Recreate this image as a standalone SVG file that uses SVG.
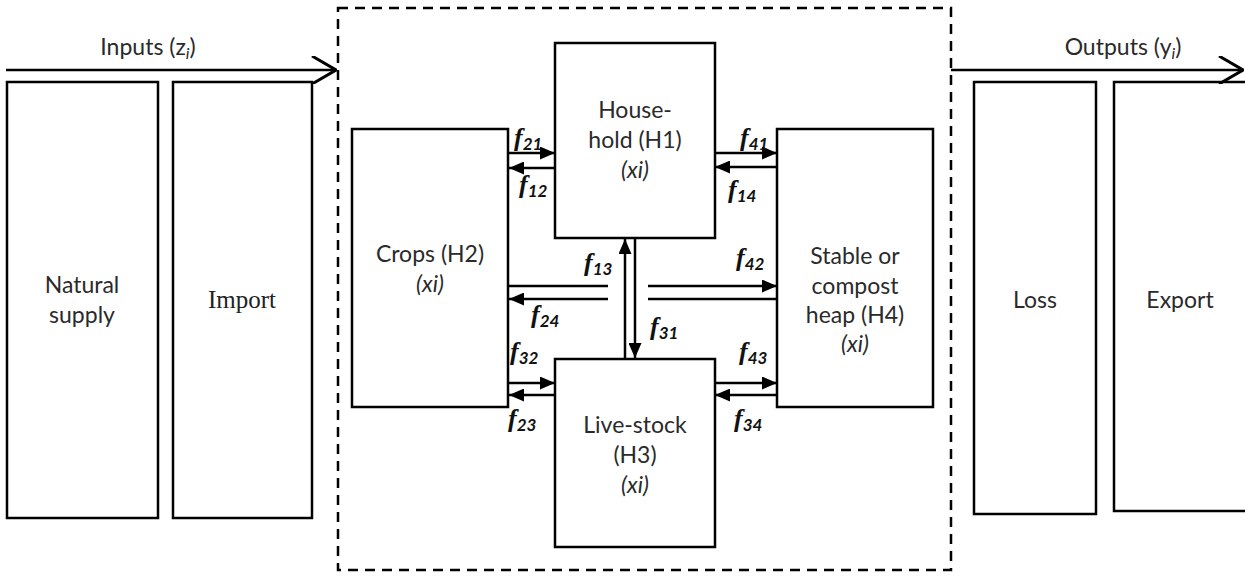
<svg xmlns="http://www.w3.org/2000/svg" width="1245" height="578" viewBox="0 0 1245 578">
<defs>
<marker id="triL" viewBox="0 0 10 10" refX="10" refY="5" markerWidth="15" markerHeight="13" markerUnits="userSpaceOnUse" orient="auto" preserveAspectRatio="none">
<path d="M0,0 L10,5 L0,10 z" fill="#000"/>
</marker>
<marker id="open" viewBox="0 0 12 14" refX="12" refY="7" markerWidth="26" markerHeight="28" markerUnits="userSpaceOnUse" orient="auto">
<path d="M0,0 L12,7 L0,14" fill="none" stroke="#000" stroke-width="1.5"/>
</marker>
</defs>
<style>
.box{fill:#fff;stroke:#000;stroke-width:2.5}
.t{font-family:Lato,"Open Sans","Liberation Sans",sans-serif;font-size:23px;fill:#2a2a2a;text-anchor:middle}
.it{font-style:italic}
.sr{font-family:"Liberation Serif",serif;font-size:25px;fill:#222;text-anchor:middle}
.f{font-family:"Liberation Serif",serif;font-style:italic;font-weight:bold;font-size:26px;fill:#111}
.sub{font-family:Lato,"Liberation Sans",sans-serif;font-style:italic;font-weight:bold;font-size:17px}
.ln{stroke:#000;stroke-width:2.5;fill:none}
.ar{stroke:#000;stroke-width:2.5;fill:none;marker-end:url(#triL)}
</style>
<rect width="1245" height="578" fill="#fff"/>
<g id="boundary">
<rect x="338" y="8" width="613" height="562" fill="none" stroke="#000" stroke-width="2.5" stroke-dasharray="10,7"/>
</g>
<g id="natural-supply">
<rect class="box" x="7" y="82" width="151" height="436"/>
<text class="t" x="82" y="293">Natural</text>
<text class="t" x="82" y="323">supply</text>
</g>
<g id="import">
<rect class="box" x="173" y="82" width="139" height="436"/>
<text class="sr" x="242" y="308">Import</text>
</g>
<g id="loss">
<rect class="box" x="974" y="82" width="122" height="432"/>
<text class="t" x="1035" y="308">Loss</text>
</g>
<g id="export">
<rect class="box" x="1114" y="82" width="140" height="429"/>
<text class="t" x="1180" y="308">Export</text>
</g>
<g id="household">
<rect class="box" x="555" y="43" width="160" height="195"/>
<text class="t" x="635" y="118">House-</text>
<text class="t" x="635" y="148">hold (H1)</text>
<text class="t it" x="635" y="178">(xi)</text>
</g>
<g id="crops">
<rect class="box" x="352" y="129" width="156" height="278"/>
<text class="t" x="430" y="262">Crops (H2)</text>
<text class="t it" x="430" y="292">(xi)</text>
</g>
<g id="stable">
<rect class="box" x="777" y="129" width="156" height="278"/>
<text class="t" x="855" y="264">Stable or</text>
<text class="t" x="855" y="294">compost</text>
<text class="t" x="855" y="323">heap (H4)</text>
<text class="t it" x="855" y="352">(xi)</text>
</g>
<g id="livestock">
<rect class="box" x="555" y="359" width="160" height="188"/>
<text class="t" x="635" y="433">Live-stock</text>
<text class="t" x="635" y="463">(H3)</text>
<text class="t it" x="635" y="493">(xi)</text>
</g>
<g id="connectors">
<line x1="6" y1="70" x2="336" y2="70" class="ln" style="marker-end:url(#open)"/>
<line x1="951" y1="70" x2="1243" y2="70" class="ln" style="marker-end:url(#open)"/>
<line x1="509" y1="153" x2="555" y2="153" class="ar"/>
<line x1="555" y1="168" x2="509" y2="168" class="ar"/>
<line x1="715" y1="153" x2="777" y2="153" class="ar"/>
<line x1="777" y1="167" x2="715" y2="167" class="ar"/>
<line x1="508" y1="286" x2="608" y2="286" class="ln"/>
<line x1="608" y1="299" x2="509" y2="299" class="ar"/>
<line x1="648" y1="286" x2="777" y2="286" class="ar"/>
<line x1="648" y1="299" x2="777" y2="299" class="ln"/>
<line x1="625" y1="359" x2="625" y2="239" class="ar"/>
<line x1="635" y1="238" x2="635" y2="358" class="ar"/>
<line x1="509" y1="383" x2="555" y2="383" class="ar"/>
<line x1="555" y1="395" x2="509" y2="395" class="ar"/>
<line x1="715" y1="383" x2="777" y2="383" class="ar"/>
<line x1="777" y1="395" x2="715" y2="395" class="ar"/>
</g>
<g id="labels">
<text class="t" x="148" y="55">Inputs (z<tspan class="it" font-size="16" dy="4">i</tspan><tspan dy="-4">)</tspan></text>
<text class="t" x="1123" y="55">Outputs (y<tspan class="it" font-size="16" dy="4">i</tspan><tspan dy="-4">)</tspan></text>
<text class="f" x="514" y="146">f<tspan class="sub" dy="4">21</tspan></text>
<text class="f" x="519" y="193">f<tspan class="sub" dy="4">12</tspan></text>
<text class="f" x="740" y="146">f<tspan class="sub" dy="4">41</tspan></text>
<text class="f" x="728" y="198">f<tspan class="sub" dy="4">14</tspan></text>
<text class="f" x="584" y="271">f<tspan class="sub" dy="4">13</tspan></text>
<text class="f" x="736" y="266">f<tspan class="sub" dy="4">42</tspan></text>
<text class="f" x="531" y="323">f<tspan class="sub" dy="4">24</tspan></text>
<text class="f" x="650" y="335">f<tspan class="sub" dy="4">31</tspan></text>
<text class="f" x="510" y="360">f<tspan class="sub" dy="4">32</tspan></text>
<text class="f" x="739" y="360">f<tspan class="sub" dy="4">43</tspan></text>
<text class="f" x="508" y="427">f<tspan class="sub" dy="4">23</tspan></text>
<text class="f" x="734" y="427">f<tspan class="sub" dy="4">34</tspan></text>
</g>
</svg>
